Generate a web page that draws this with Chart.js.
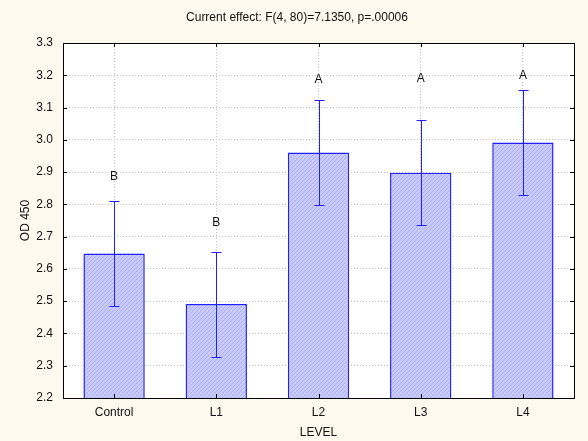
<!DOCTYPE html>
<html>
<head>
<meta charset="utf-8">
<script src="https://cdn.jsdelivr.net/npm/chart.js@4.4.0/dist/chart.umd.min.js"></script>
<style>
  html, body { margin: 0; padding: 0; background: #fdf9ef; }
  #myChart { display: block; }
</style>
</head>
<body>
<canvas id="myChart" width="588" height="441"></canvas>
<script>
// data
var labels = ['Control', 'L1', 'L2', 'L3', 'L4'];
var means = [2.648, 2.491, 2.961, 2.898, 2.992];
var errLow = [2.486, 2.328, 2.799, 2.736, 2.830];
var errHigh = [2.811, 2.653, 3.122, 3.060, 3.155];
var groupLetters = ['B', 'B', 'A', 'A', 'A'];
var letterAt = [2.885, 2.742, 3.185, 3.188, 3.200];
var yTicks = [2.2, 2.3, 2.4, 2.5, 2.6, 2.7, 2.8, 2.9, 3.0, 3.1, 3.2, 3.3];
var titleText = 'Current effect: F(4, 80)=7.1350, p=.00006';

var FONT = '"Liberation Sans", Arial, sans-serif';

function hatch() {
  var c = document.createElement('canvas');
  c.width = 4; c.height = 4;
  var g = c.getContext('2d');
  g.fillStyle = '#c8cbfa';
  g.fillRect(0, 0, 4, 4);
  g.strokeStyle = '#aeb2f3';
  g.lineWidth = 1;
  g.beginPath();
  g.moveTo(0, 4); g.lineTo(4, 0);
  g.stroke();
  return g.createPattern(c, 'repeat');
}

var decor = {
  id: 'decor',
  beforeDraw: function (chart) {
    var ctx = chart.ctx, a = chart.chartArea;
    ctx.save();
    ctx.fillStyle = '#fdf9ef';
    ctx.fillRect(0, 0, chart.width, chart.height);
    ctx.fillStyle = '#ffffff';
    ctx.fillRect(a.left, a.top, a.right - a.left, a.bottom - a.top);
    ctx.restore();
  },
  afterDatasetsDraw: function (chart) {
    var ctx = chart.ctx, x = chart.scales.x, y = chart.scales.y;
    ctx.save();
    ctx.strokeStyle = '#2020ff';
    ctx.lineWidth = 1;
    for (var i = 0; i < labels.length; i++) {
      var px = Math.round(x.getPixelForValue(i)) + 0.5;
      var lo = Math.round(y.getPixelForValue(errLow[i])) + 0.5;
      var hi = Math.round(y.getPixelForValue(errHigh[i])) + 0.5;
      ctx.beginPath();
      ctx.moveTo(px, lo); ctx.lineTo(px, hi);
      ctx.moveTo(px - 5, lo); ctx.lineTo(px + 5, lo);
      ctx.moveTo(px - 5, hi); ctx.lineTo(px + 5, hi);
      ctx.stroke();
    }
    ctx.fillStyle = '#111';
    ctx.font = '12px ' + FONT;
    ctx.textAlign = 'center';
    ctx.textBaseline = 'middle';
    for (var j = 0; j < labels.length; j++) {
      ctx.fillText(groupLetters[j], x.getPixelForValue(j), y.getPixelForValue(letterAt[j]));
    }
    ctx.restore();
  },
  afterDraw: function (chart) {
    var ctx = chart.ctx, a = chart.chartArea, x = chart.scales.x, y = chart.scales.y;
    ctx.save();
    ctx.strokeStyle = '#000';
    ctx.lineWidth = 1;
    ctx.beginPath();
    yTicks.forEach(function (v) {
      var py = Math.round(y.getPixelForValue(v)) + 0.5;
      ctx.moveTo(a.left, py); ctx.lineTo(a.left + 4, py);
      ctx.moveTo(a.right - 4, py); ctx.lineTo(a.right, py);
    });
    labels.forEach(function (l, i) {
      var px = Math.round(x.getPixelForValue(i)) + 0.5;
      ctx.moveTo(px, a.bottom); ctx.lineTo(px, a.bottom - 4);
      ctx.moveTo(px, a.top); ctx.lineTo(px, a.top + 4);
    });
    ctx.stroke();
    ctx.strokeRect(Math.round(a.left) + 0.5, Math.round(a.top) + 0.5,
      Math.round(a.right - a.left), Math.round(a.bottom - a.top));

    ctx.fillStyle = '#111';
    ctx.font = '12px ' + FONT;
    ctx.textAlign = 'center';
    ctx.textBaseline = 'middle';
    ctx.fillText(titleText, 297, 18);
    ctx.restore();
  }
};

var ctx = document.getElementById('myChart').getContext('2d');

var myChart = new Chart(ctx, {
  type: 'bar',
  data: {
    labels: labels,
    datasets: [{
      label: 'OD 450',
      data: means,
      backgroundColor: hatch(),
      borderColor: '#1f1fff',
      borderWidth: 1.5,
      barPercentage: 0.6,
      categoryPercentage: 1.0
    }]
  },
  options: {
    responsive: false,
    animation: false,
    layout: { padding: { top: 43, right: 14, left: 0, bottom: 0 } },
    scales: {
      x: {
        afterFit: function (s) { s.height = 43; },
        grid: { offset: false, color: '#c4c4c4', lineWidth: 1, drawTicks: false },
        border: { display: false, dash: [1, 2] },
        ticks: { color: '#111', font: { family: FONT, size: 12 }, padding: 7 },
        title: { display: true, text: 'LEVEL', color: '#111', font: { family: FONT, size: 12 }, padding: { top: 0, bottom: 1 } }
      },
      y: {
        min: 2.2,
        max: 3.3,
        afterFit: function (s) { s.width = 63; },
        afterBuildTicks: function (s) { s.ticks = yTicks.map(function (v) { return { value: v }; }); },
        grid: { color: '#c4c4c4', lineWidth: 1, drawTicks: false },
        border: { display: false, dash: [1, 2] },
        ticks: {
          color: '#111',
          font: { family: FONT, size: 12 },
          padding: 10,
          callback: function (v) { return Number(v).toFixed(1); }
        },
        title: { display: true, text: 'OD 450', color: '#111', font: { family: FONT, size: 12 }, padding: { top: 18, bottom: 0 } }
      }
    },
    plugins: {
      legend: { display: false },
      tooltip: { enabled: false }
    }
  },
  plugins: [decor]
});
</script>
</body>
</html>
